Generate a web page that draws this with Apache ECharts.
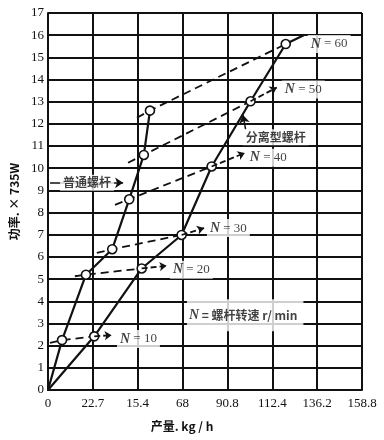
<!DOCTYPE html>
<html><head><meta charset="utf-8">
<script src="https://cdn.jsdelivr.net/npm/echarts@6/dist/echarts.min.js"></script>
<style>html,body{margin:0;padding:0;background:#fff}#c{width:384px;height:440px}</style>
</head><body><div id="c"></div>
<script>
// ---- data ----
const xTickLabels = ['0','22.7','15.4','68','90.8','112.4','136.2','158.8'];
const xStep = 22.7;
const yMax = 17;
// 普通螺杆 (ordinary screw): [kg/h, power x735W]
const ordinaryScrew = [[0,0],[7.1,2.25],[19.2,5.2],[32.5,6.35],[41.1,8.6],[48.5,10.6],[51.6,12.6]];
// 分离型螺杆 (separated screw)
const separatedScrew = [[0,0],[23.4,2.42],[47.4,5.48],[67.6,6.99],[82.8,10.08],[102.5,13.02],[120.3,15.6],[129.4,16.0]];
// constant-speed dashed lines: start, ordinary circle, separated circle
const speedNames = ['10','20','30','40','50','60'];
const speedLines = [
  [[1,2.12],[7.1,2.25],[23.4,2.42]],
  [[13.6,5.13],[19.2,5.2],[47.4,5.48]],
  [[24.7,6.18],[32.5,6.35],[67.6,6.99]],
  [[33.9,8.35],[41.1,8.6],[82.8,10.08]],
  [[40.5,10.25],[48.5,10.6],[102.5,13.02]],
  [[45,12.28],[51.6,12.6],[120.3,15.6]]
];
const speedArrowEnds = [[32.2,2.47],[60,5.6],[79,7.3],[99.6,10.69],[115.8,13.64],null];
const speedLabelPos = [[34.9,2.3],[61.7,5.42],[80.4,7.3],[100.6,10.47],[118.3,13.55],[131.4,15.6]];
const ordinaryLabel = {text:'普通螺杆', pos:[6.1,9.34], arrowFrom:[1,9.34], arrowTo:[38,9.34]};
const separatedLabel = {text:'分离型螺杆', pos:[98.6,11.4], arrowFrom:[100,11.75], arrowTo:[98.7,12.4]};
const legendNote = {pos:[70.3,3.37]};

const ink = '#111';
const serif = 'Liberation Serif';

const series = [];
speedLines.forEach((pts, i) => {
  const s = {
    type:'line', data:pts, symbol:'none', z:2, silent:true,
    lineStyle:{color:ink, width:1.8, type:[8,5]}
  };
  if (speedArrowEnds[i]) {
    s.markLine = {
      silent:true, symbol:['none','arrow'], symbolSize:7,
      lineStyle:{color:ink, width:1.8, type:[6,3]}, label:{show:false},
      data:[[{coord:pts[pts.length-1]},{coord:speedArrowEnds[i]}]]
    };
  }
  series.push(s);
});
function circled(arr, skip) {
  return arr.map((p, i) => skip.includes(i) ? {value:p, symbol:'none'} : {value:p});
}
series.push({
  type:'line', data:circled(ordinaryScrew,[0]), symbol:'circle', symbolSize:9, z:4,
  itemStyle:{color:'#fff', borderColor:ink, borderWidth:1.6},
  lineStyle:{color:ink, width:2.2},
  markLine:{silent:true, symbol:['none','arrow'], symbolSize:8,
    lineStyle:{color:ink,width:1.5,type:'solid'}, label:{show:false},
    data:[[{coord:ordinaryLabel.arrowFrom},{coord:ordinaryLabel.arrowTo}]]}
});
series.push({
  type:'line', data:circled(separatedScrew,[0,separatedScrew.length-1]), symbol:'circle', symbolSize:9, z:4,
  itemStyle:{color:'#fff', borderColor:ink, borderWidth:1.6},
  lineStyle:{color:ink, width:2.2},
  markLine:{silent:true, symbol:['none','arrow'], symbolSize:8,
    lineStyle:{color:ink,width:1.5,type:'solid'}, label:{show:false},
    data:[[{coord:separatedLabel.arrowFrom},{coord:separatedLabel.arrowTo}]]}
});
// text annotations
const labelData = speedNames.map((n, i) => ({
  value: speedLabelPos[i],
  label:{formatter:'{i|N} = ' + n}
}));
labelData.push({value:ordinaryLabel.pos, label:{formatter:ordinaryLabel.text, fontFamily:'Noto Sans CJK SC', fontWeight:'bold', fontSize:12}});
labelData.push({value:separatedLabel.pos, label:{formatter:separatedLabel.text, fontFamily:'Noto Sans CJK SC', fontWeight:'bold', fontSize:12}});
labelData.push({value:legendNote.pos, label:{formatter:'{i|N} = 螺杆转速 r/ min', padding:[9,6,9,2], fontFamily:'Noto Sans CJK SC', fontWeight:'bold', fontSize:12}});
series.push({
  type:'scatter', data:labelData, symbolSize:0, z:10, silent:true,
  label:{show:true, position:'right', distance:0, color:ink, fontFamily:serif, fontSize:13,
    backgroundColor:'#fff', padding:[2,3],
    rich:{i:{fontFamily:serif, fontStyle:'italic', fontSize:14, fontWeight:'bold', color:ink}}}
});

const chart = echarts.init(document.getElementById('c'), null, {renderer:'canvas'});
chart.setOption({
  animation:false,
  backgroundColor:'#fff',
  grid:{left:48, right:22, top:13, bottom:50},
  xAxis:{
    type:'value', min:0, max:xStep*7, interval:xStep,
    name:'产量. kg / h', nameLocation:'middle', nameGap:30,
    nameTextStyle:{color:ink, fontFamily:'Noto Sans CJK SC', fontWeight:'bold', fontSize:12, padding:[0,46,0,0]},
    axisLine:{show:true, lineStyle:{color:ink, width:2}},
    axisTick:{show:false},
    axisLabel:{color:ink, fontFamily:serif, fontSize:13, margin:7,
      formatter:v => xTickLabels[Math.round(v / xStep)] ?? ''},
    splitLine:{show:true, lineStyle:{color:ink, width:2}}
  },
  yAxis:{
    type:'value', min:0, max:yMax, interval:1,
    name:'功率. × 735W', nameLocation:'middle', nameGap:27, nameRotate:90,
    nameTextStyle:{color:ink, fontFamily:'Noto Sans CJK SC', fontWeight:'bold', fontSize:12},
    axisLine:{show:true, lineStyle:{color:ink, width:2}},
    axisTick:{show:false},
    axisLabel:{color:ink, fontFamily:serif, fontSize:13, margin:4},
    splitLine:{show:true, lineStyle:{color:ink, width:2}}
  },
  series:series
});
</script></body></html>
